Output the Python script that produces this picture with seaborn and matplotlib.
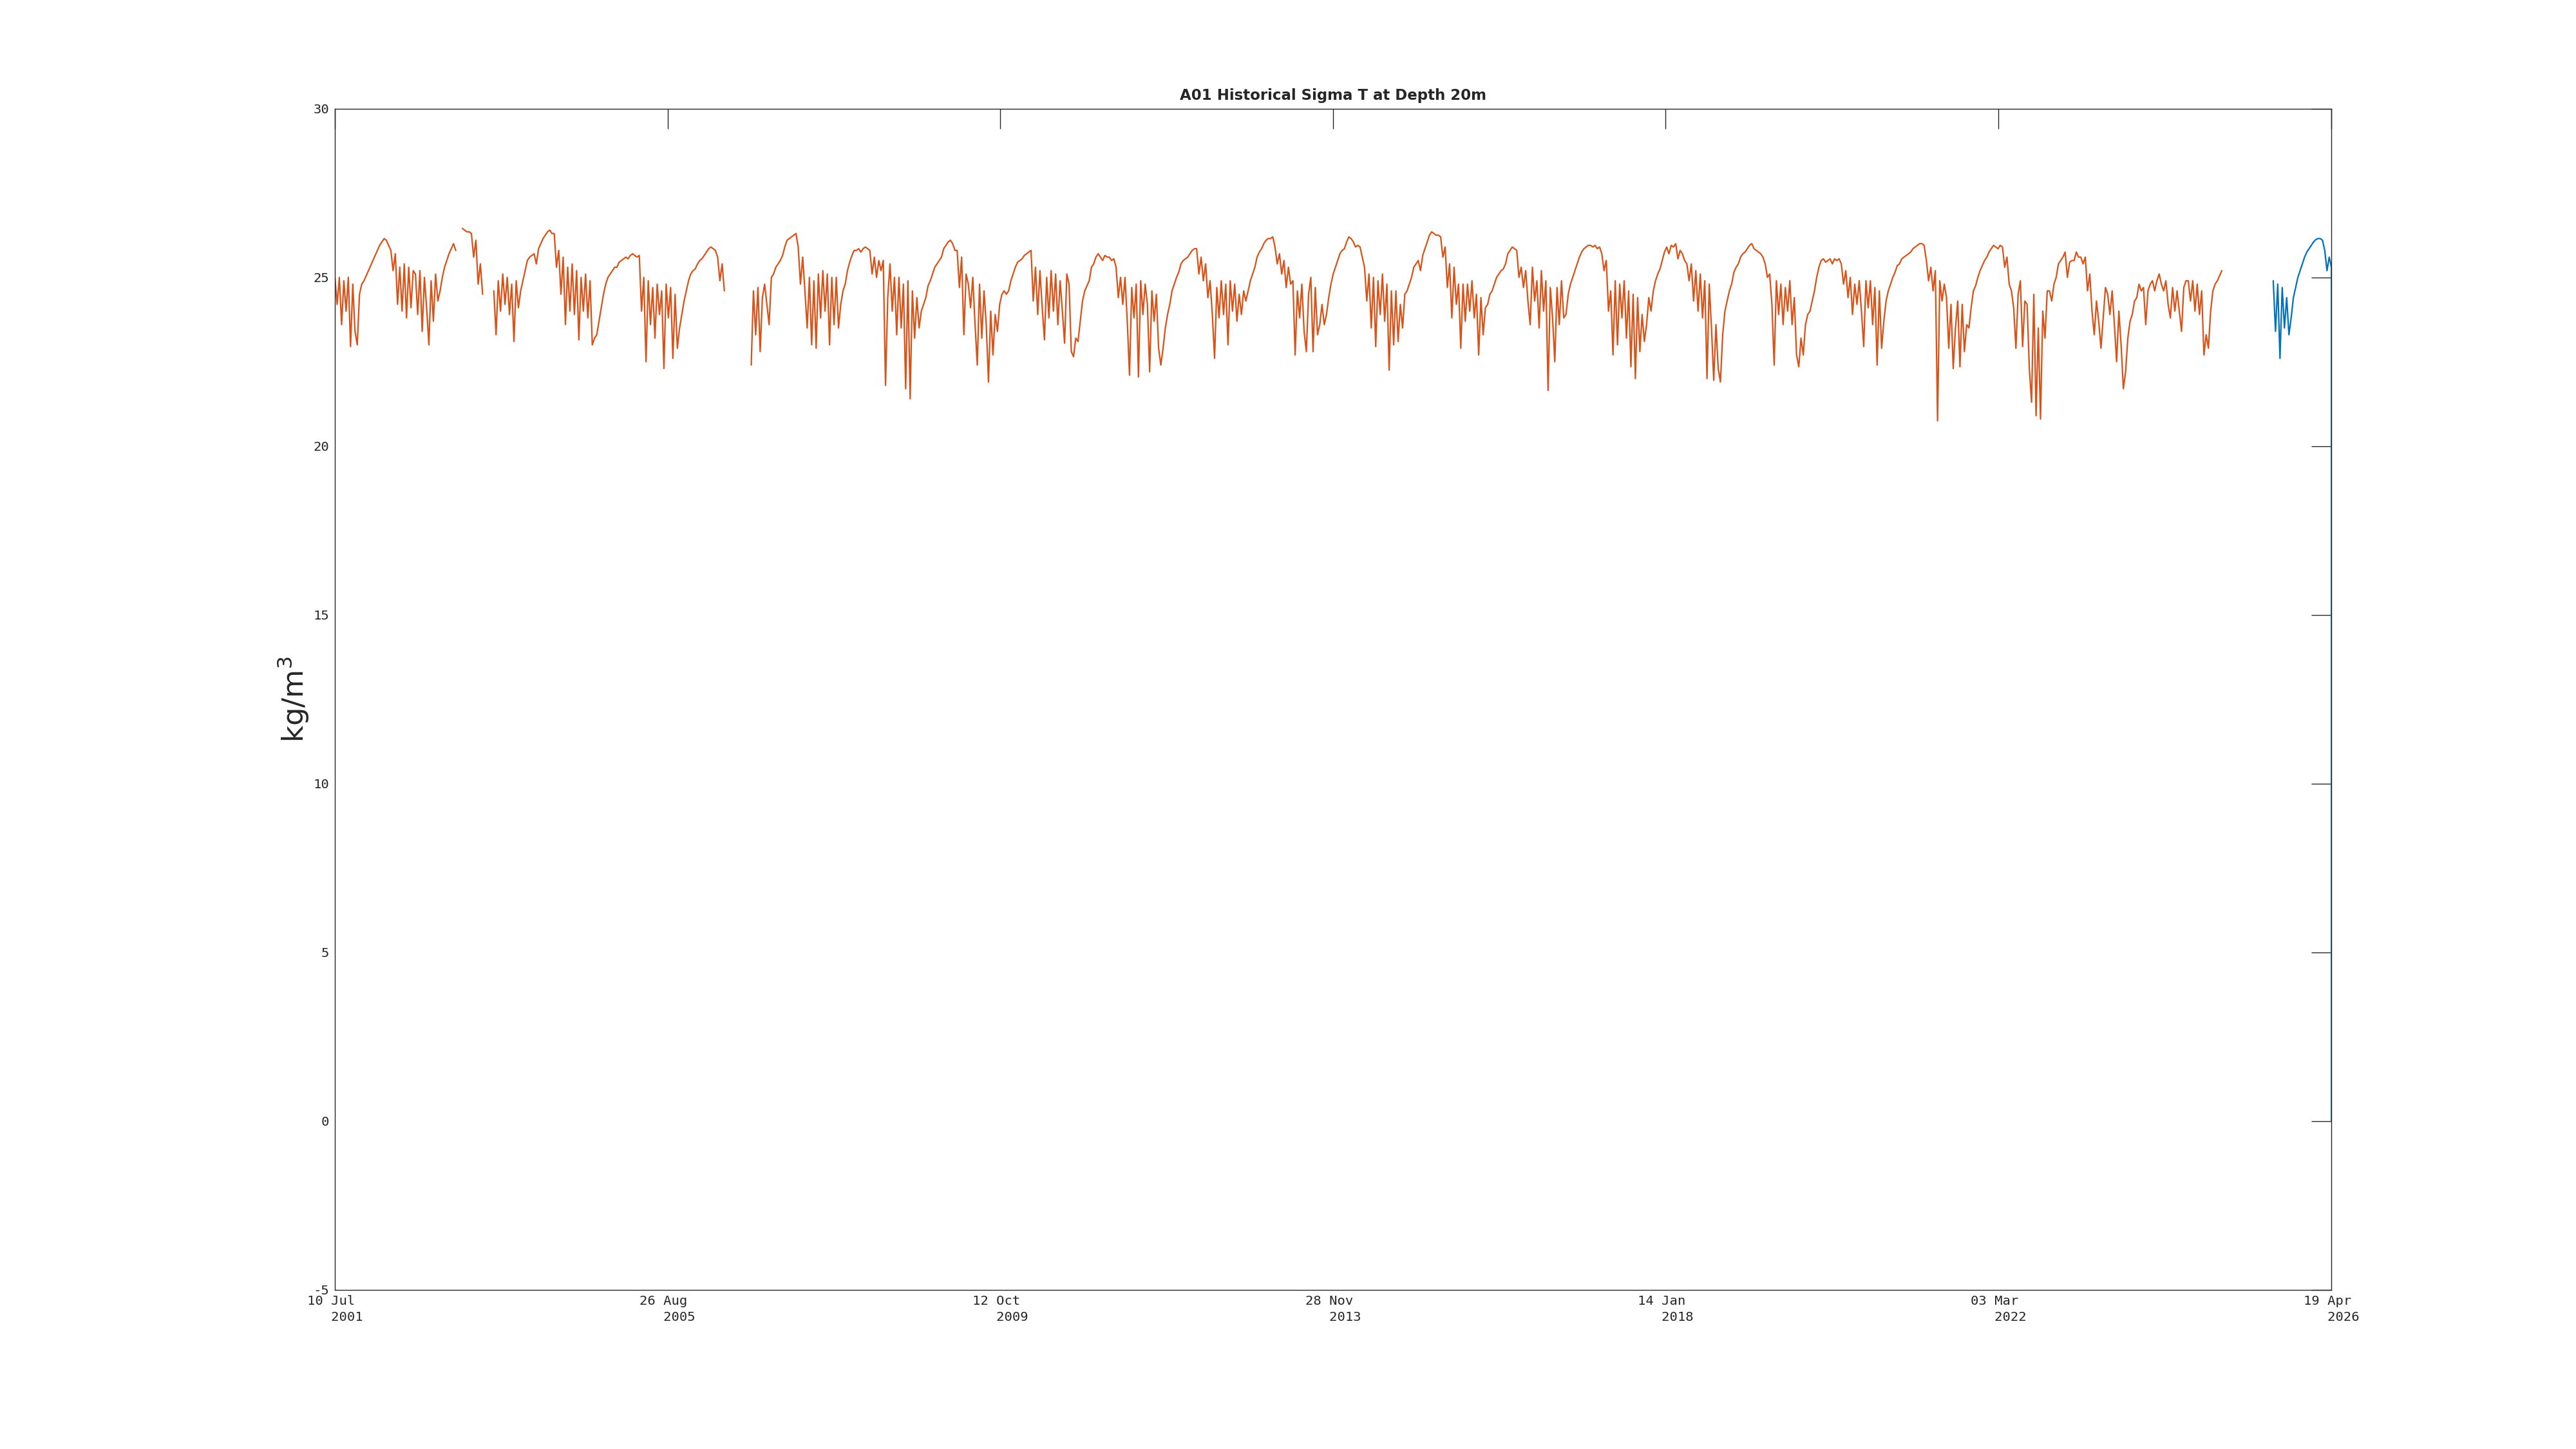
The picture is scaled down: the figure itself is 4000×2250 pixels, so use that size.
import numpy as np
import pandas as pd
import matplotlib
matplotlib.use('Agg')
import matplotlib.pyplot as plt
import seaborn as sns

nan = np.nan

# --- DATA: sigma-t at 20 m ---
# one value every ~10 days (36 per year), each row = 10 Jul .. 9 Jul of next year
orange_start = '2001-07-10'
blue_start = '2025-07-30'
step_days = 365.25 / 36

s2001 = [25.0, 24.2, 25.0, 23.6, 24.9, 24.0, 25.0, 22.95, 24.8, 23.4, 23.0, 24.5, 24.8, 24.9, 25.05, 25.2, 25.35, 25.5,
         25.65, 25.8, 25.95, 26.05, 26.15, 26.1, 25.95, 25.8, 25.2, 25.7, 24.2, 25.3, 24.0, 25.4, 23.8, 25.3, 24.1, 25.2]
s2002 = [25.1, 23.9, 25.2, 23.4, 25.0, 24.1, 23.0, 24.9, 23.7, 25.1, 24.3, 24.6, 25.0, 25.3, 25.5, 25.7, 25.85, 26.0,
         25.8, nan, nan, 26.45, 26.4, 26.35, 26.35, 26.3, 25.6, 26.1, 24.8, 25.4, 24.5, nan, nan, nan, nan, 24.6]
s2003 = [23.3, 24.9, 24.0, 25.1, 24.2, 25.0, 23.9, 24.8, 23.1, 24.9, 24.1, 24.6, 24.9, 25.2, 25.5, 25.6, 25.65, 25.7,
         25.4, 25.85, 26.0, 26.15, 26.25, 26.35, 26.4, 26.3, 26.3, 25.3, 25.8, 24.5, 25.6, 23.6, 25.3, 24.0, 25.4, 23.9]
s2004 = [25.2, 23.15, 25.0, 24.0, 25.1, 23.8, 24.9, 23.0, 23.2, 23.3, 23.7, 24.1, 24.5, 24.8, 25.0, 25.1, 25.2, 25.3,
         25.3, 25.45, 25.5, 25.55, 25.6, 25.55, 25.65, 25.7, 25.65, 25.6, 25.65, 24.0, 25.0, 22.5, 24.9, 23.6, 24.7, 23.2]
s2005 = [24.8, 23.9, 24.6, 22.3, 24.8, 23.8, 24.7, 22.6, 24.5, 22.9, 23.5, 23.9, 24.3, 24.6, 24.9, 25.1, 25.2, 25.25,
         25.4, 25.5, 25.55, 25.65, 25.75, 25.85, 25.9, 25.85, 25.8, 25.6, 24.9, 25.4, 24.6, nan, nan, nan, nan, nan]
s2006 = [nan, nan, nan, nan, nan, nan, 22.4, 24.6, 23.3, 24.7, 22.8, 24.4, 24.8, 24.2, 23.6, 25.0, 25.1, 25.3,
         25.4, 25.5, 25.65, 25.9, 26.1, 26.15, 26.2, 26.25, 26.3, 25.9, 24.8, 25.6, 24.6, 23.5, 25.0, 23.0, 24.9, 22.9]
s2007 = [25.1, 23.8, 25.2, 24.0, 25.1, 23.0, 25.0, 23.6, 25.0, 23.5, 24.2, 24.6, 24.8, 25.2, 25.45, 25.65, 25.8, 25.8,
         25.85, 25.75, 25.85, 25.9, 25.85, 25.8, 25.1, 25.6, 25.0, 25.5, 25.2, 25.5, 21.8, 24.4, 25.4, 24.0, 25.0, 23.3]
s2008 = [25.0, 23.5, 24.8, 21.7, 24.9, 21.4, 24.6, 23.2, 24.4, 23.5, 24.0, 24.2, 24.4, 24.75, 24.9, 25.1, 25.3, 25.4,
         25.5, 25.6, 25.85, 25.95, 26.05, 26.1, 26.0, 25.8, 25.8, 24.7, 25.6, 23.3, 25.1, 24.8, 24.1, 25.0, 23.6, 22.4]
s2009 = [24.8, 23.2, 24.6, 23.6, 21.9, 24.0, 22.7, 23.9, 23.4, 24.2, 24.5, 24.6, 24.5, 24.6, 24.9, 25.1, 25.3, 25.45,
         25.5, 25.55, 25.65, 25.7, 25.75, 25.8, 24.3, 25.3, 23.9, 25.2, 24.1, 23.15, 25.0, 23.8, 25.2, 24.0, 25.1, 23.6]
s2010 = [24.9, 24.0, 23.05, 25.1, 24.8, 22.8, 22.65, 23.2, 23.1, 23.7, 24.3, 24.6, 24.75, 24.9, 25.3, 25.4, 25.6, 25.7,
         25.6, 25.5, 25.65, 25.6, 25.6, 25.5, 25.55, 25.3, 24.4, 25.0, 24.2, 25.0, 23.7, 22.1, 24.7, 23.8, 24.8, 22.05]
s2011 = [24.9, 23.9, 24.8, 24.2, 22.2, 24.6, 23.7, 24.5, 22.9, 22.4, 22.9, 23.5, 23.9, 24.2, 24.6, 24.8, 25.0, 25.15,
         25.4, 25.5, 25.55, 25.6, 25.7, 25.8, 25.85, 25.85, 25.1, 25.6, 24.9, 25.4, 24.4, 24.9, 23.9, 22.6, 24.7, 23.8]
s2012 = [24.9, 23.9, 24.8, 23.0, 24.9, 24.0, 24.8, 23.7, 24.5, 23.9, 24.6, 24.3, 24.6, 24.9, 25.1, 25.3, 25.6, 25.75,
         25.85, 26.0, 26.1, 26.15, 26.15, 26.2, 25.9, 25.4, 25.7, 25.1, 25.5, 24.7, 25.3, 24.8, 24.9, 22.7, 24.6, 23.8]
s2013 = [24.8, 23.4, 22.8, 24.5, 25.0, 22.8, 24.7, 23.3, 23.6, 24.2, 23.6, 23.9, 24.4, 24.8, 25.1, 25.3, 25.5, 25.7,
         25.8, 25.85, 26.05, 26.2, 26.15, 26.05, 25.9, 25.95, 25.9, 25.6, 25.3, 24.3, 25.1, 23.5, 25.0, 22.95, 24.9, 23.9]
s2014 = [25.1, 23.7, 24.8, 22.25, 24.6, 23.0, 24.6, 23.1, 24.2, 23.5, 24.5, 24.6, 24.8, 25.0, 25.3, 25.4, 25.5, 25.2,
         25.65, 25.85, 26.05, 26.25, 26.35, 26.3, 26.25, 26.25, 26.2, 25.6, 25.9, 24.7, 25.4, 23.8, 25.3, 24.2, 24.8, 22.9]
s2015 = [24.8, 23.7, 24.8, 24.0, 24.9, 23.8, 24.5, 22.7, 24.4, 23.3, 24.1, 24.2, 24.5, 24.6, 24.8, 25.0, 25.1, 25.2,
         25.25, 25.4, 25.7, 25.8, 25.9, 25.85, 25.8, 25.0, 25.3, 24.7, 25.2, 24.3, 23.6, 25.3, 24.3, 24.9, 23.5, 25.2]
s2016 = [24.0, 24.9, 21.65, 24.7, 23.8, 22.5, 24.7, 23.6, 24.9, 23.8, 23.9, 24.5, 24.8, 25.0, 25.2, 25.4, 25.6, 25.75,
         25.85, 25.9, 25.95, 25.95, 25.9, 25.95, 25.85, 25.9, 25.7, 25.2, 25.5, 24.0, 24.6, 22.7, 24.9, 23.0, 24.8, 23.8]
s2017 = [24.9, 23.2, 24.6, 22.35, 24.5, 22.0, 24.4, 22.8, 23.9, 23.1, 23.6, 24.4, 24.0, 24.6, 24.9, 25.1, 25.25, 25.5,
         25.75, 25.9, 25.7, 25.95, 25.9, 26.0, 25.55, 25.8, 25.7, 25.5, 25.4, 24.9, 25.4, 24.3, 25.2, 24.0, 25.1, 23.8]
s2018 = [24.9, 22.0, 24.8, 23.5, 21.95, 23.6, 22.3, 21.9, 23.3, 24.0, 24.3, 24.6, 24.8, 25.15, 25.3, 25.4, 25.6, 25.7,
         25.75, 25.85, 25.95, 26.0, 25.85, 25.8, 25.75, 25.7, 25.6, 25.4, 25.0, 25.1, 24.2, 22.4, 24.9, 23.9, 24.8, 23.6]
s2019 = [24.7, 24.0, 24.9, 23.6, 24.4, 22.7, 22.35, 23.2, 22.7, 23.6, 23.9, 24.0, 24.3, 24.6, 25.0, 25.3, 25.5, 25.55,
         25.45, 25.5, 25.55, 25.4, 25.55, 25.5, 25.55, 25.4, 24.8, 25.2, 24.4, 25.0, 23.9, 24.8, 24.2, 24.9, 24.0, 22.95]
s2020 = [24.9, 24.1, 24.9, 23.6, 24.7, 22.4, 24.6, 22.9, 23.7, 24.3, 24.6, 24.8, 25.0, 25.15, 25.35, 25.4, 25.55, 25.6,
         25.65, 25.7, 25.75, 25.85, 25.9, 25.95, 26.0, 26.0, 25.95, 25.5, 24.9, 25.3, 24.6, 25.2, 20.75, 24.9, 24.3, 24.8]
s2021 = [24.4, 22.9, 24.2, 22.3, 23.5, 24.3, 22.35, 24.2, 22.8, 23.6, 23.5, 24.1, 24.6, 24.75, 25.0, 25.2, 25.35, 25.5,
         25.6, 25.75, 25.85, 25.95, 25.9, 25.85, 25.95, 25.9, 25.3, 25.6, 24.8, 24.6, 24.1, 22.9, 24.5, 24.9, 22.95, 24.3]
s2022 = [24.2, 22.3, 21.3, 24.5, 20.9, 23.5, 20.8, 24.0, 23.2, 24.6, 24.6, 24.3, 24.8, 25.0, 25.4, 25.5, 25.6, 25.75,
         25.0, 25.45, 25.5, 25.5, 25.75, 25.6, 25.6, 25.4, 25.6, 24.6, 25.1, 24.0, 23.3, 24.3, 23.7, 22.9, 23.8, 24.7]
s2023 = [24.5, 23.9, 24.6, 23.6, 22.5, 24.0, 23.0, 21.7, 22.2, 23.2, 23.7, 23.9, 24.3, 24.4, 24.8, 24.6, 24.7, 23.6,
         24.6, 24.8, 24.9, 24.6, 24.9, 25.1, 24.8, 24.6, 24.9, 24.2, 23.8, 24.7, 24.0, 24.6, 24.0, 23.4, 24.7, 24.9]
s2024 = [24.9, 24.3, 24.9, 24.0, 24.8, 23.9, 24.6, 22.7, 23.3, 22.9, 24.0, 24.6, 24.8, 24.9, 25.05, 25.2]

# newest deployment (blue), last reading drops to 0
blue_sigma = [24.9, 23.4, 24.8, 22.6, 24.7, 23.5, 24.4, 23.3, 23.8, 24.4, 24.7, 25.0, 25.2, 25.4, 25.6, 25.75,
              25.85, 25.95, 26.05, 26.12, 26.15, 26.15, 26.1, 25.8, 25.2, 25.6, 25.3]
blue_last = 0.0

tick_dates = ['2001-07-10', '2005-08-26', '2009-10-12', '2013-11-28', '2018-01-14', '2022-03-03', '2026-04-19']
y_ticks = [-5, 0, 5, 10, 15, 20, 25, 30]

# --- build frames ---
orange_vals = np.concatenate([s2001, s2002, s2003, s2004, s2005, s2006, s2007, s2008, s2009, s2010, s2011, s2012,
                              s2013, s2014, s2015, s2016, s2017, s2018, s2019, s2020, s2021, s2022, s2023, s2024])
orange = pd.DataFrame({
    'time': pd.Timestamp(orange_start) + pd.to_timedelta(np.arange(len(orange_vals)) * step_days, unit='D'),
    'sigma': orange_vals,
})
orange['seg'] = orange['sigma'].isna().cumsum()
orange = orange.dropna()

blue_t = pd.Timestamp(blue_start) + pd.to_timedelta(np.arange(len(blue_sigma)) * step_days, unit='D')
blue = pd.DataFrame({'time': list(blue_t) + [blue_t[-1]], 'sigma': blue_sigma + [blue_last]})
blue['seg'] = 0

# --- plot ---
sns.set_theme(style='white')
plt.rcParams['font.family'] = ['DejaVu Sans']

fig = plt.figure(figsize=(16, 9), dpi=250)
ax = fig.add_axes([0.13, 0.11, 0.775, 0.815])

sns.lineplot(data=orange, x='time', y='sigma', units='seg', estimator=None, sort=False,
             color='#D95319', linewidth=0.65, ax=ax)
sns.lineplot(data=blue, x='time', y='sigma', units='seg', estimator=None, sort=False,
             color='#0072BD', linewidth=0.65, ax=ax)

ticks = pd.to_datetime(tick_dates)
ax.set_xlim(ticks[0], ticks[-1])
ax.set_ylim(y_ticks[0], y_ticks[-1])
ax.set_xticks(ticks)
ax.set_xticklabels([f"{d:%d %b}\n   {d:%Y}" for d in ticks], family='DejaVu Sans Mono',
                   fontsize=5.9, ha='center', multialignment='left', linespacing=1.4)
ax.set_yticks(y_ticks)
ax.set_yticklabels([str(v) for v in y_ticks], family='DejaVu Sans Mono', fontsize=5.9)

ax.tick_params(direction='in', length=9, width=0.4, top=True, right=True, colors='#262626', pad=2.5)
for sp in ax.spines.values():
    sp.set_visible(True)
    sp.set_linewidth(0.4)
    sp.set_color('#262626')

ax.set_xlabel('')
ax.set_ylabel('kg/m$^3$', fontsize=13, color='#262626')
ax.yaxis.set_label_coords(-0.012, 0.5)
ax.set_title('A01 Historical Sigma T at Depth 20m', fontsize=6.6, fontweight='bold', pad=4)

fig.savefig('out.png', dpi=250, facecolor='white')
